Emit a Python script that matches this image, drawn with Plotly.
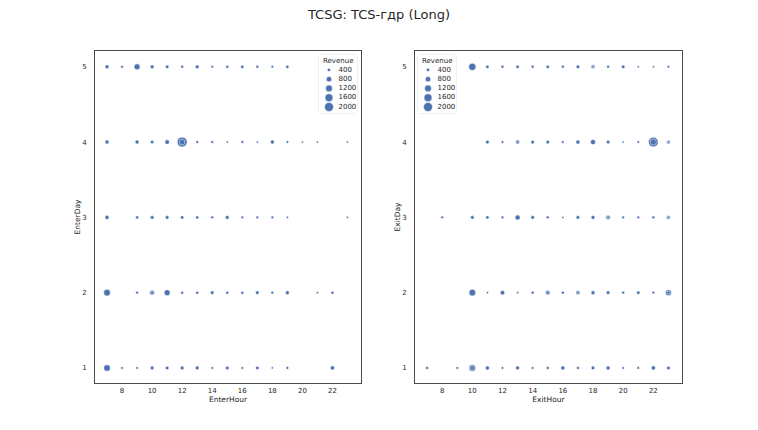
import numpy as np
import plotly.graph_objects as go

# ---------------- data ----------------
# Left panel: entry hour / entry day / revenue per trade
enter_hour = [7, 8, 9, 10, 11, 12, 13, 14, 15, 16, 17, 18, 19,
              7, 9, 10, 11, 12, 13, 14, 15, 16, 17, 18, 19, 20, 21, 23,
              7, 9, 10, 11, 12, 13, 14, 15, 16, 17, 18, 19, 23,
              7, 9, 10, 11, 12, 13, 14, 15, 16, 17, 18, 19, 21, 22,
              7, 8, 9, 10, 11, 12, 13, 14, 15, 16, 17, 18, 19, 22,
              12, 10]
enter_day = [5] * 13 + [4] * 15 + [3] * 13 + [2] * 14 + [1] * 14 + [4, 2]
enter_rev = [500, 320, 950, 480, 420, 330, 470, 290, 350, 400, 330, 290, 380,
             520, 500, 430, 620, 2400, 330, 320, 260, 320, 250, 500, 290, 250, 250, 230,
             520, 360, 450, 450, 420, 360, 320, 460, 290, 290, 290, 250, 230,
             1150, 320, 700, 950, 350, 350, 440, 350, 350, 440, 320, 480, 250, 350,
             1150, 290, 290, 460, 440, 460, 470, 290, 440, 290, 430, 250, 320, 560,
             900, 350]

# Right panel: exit hour / exit day / revenue per trade
exit_hour = list(range(10, 24)) + list(range(11, 24)) + [8] + list(range(10, 24)) + \
    list(range(10, 24)) + [7, 9] + list(range(10, 24)) + \
    [22, 13, 23, 18, 19, 23, 15, 17, 23, 10]
exit_day = [5] * 14 + [4] * 13 + [3] * 15 + [2] * 14 + [1] * 16 + \
    [4, 4, 4, 5, 3, 3, 2, 2, 2, 1]
exit_rev = [1350, 400, 340, 400, 340, 400, 340, 450, 500, 340, 430, 250, 250, 290,
            450, 300, 560, 440, 440, 300, 530, 720, 450, 250, 290, 2300, 480,
            300, 440, 400, 300, 720, 440, 340, 250, 450, 480, 600, 300, 300, 330, 480,
            1150, 250, 600, 250, 340, 650, 340, 560, 500, 450, 330, 420, 300, 950,
            340, 290, 1150, 520, 290, 480, 290, 330, 520, 330, 450, 520, 290, 300, 540, 440,
            1000, 300, 250, 250, 300, 250, 350, 300, 400, 500]

legend_values = [400, 800, 1200, 1600, 2000]
hour_ticks = [8, 10, 12, 14, 16, 18, 20, 22]
day_ticks = [1, 2, 3, 4, 5]

TITLE = "TCSG: TCS-гдр (Long)"

# ---------------- style ----------------
BLUE = "#4C72B0"
TXT = "#262626"
FONT = "DejaVu Sans"
W, H = 758, 430
OFF = 8  # page body margin of the html page


def rev_to_px(r):
    r = np.asarray(r, dtype=float)
    return 1.12 * np.sqrt(np.maximum(9 + (r - 400) * 55 / 1600, 3.6))


def px_x(p):
    return (p - OFF) / W


def px_y(p):
    return 1 - (p - OFF) / H


fig = go.Figure()

marker_common = dict(color=BLUE, opacity=1, line=dict(color="white", width=0.5),
                     sizemode="diameter")

fig.add_trace(go.Scatter(x=enter_hour, y=enter_day, mode="markers",
                         marker=dict(size=rev_to_px(enter_rev), **marker_common),
                         xaxis="x", yaxis="y", showlegend=False, hoverinfo="skip"))
fig.add_trace(go.Scatter(x=exit_hour, y=exit_day, mode="markers",
                         marker=dict(size=rev_to_px(exit_rev), **marker_common),
                         xaxis="x2", yaxis="y2", showlegend=False, hoverinfo="skip"))

# size legends drawn on small auxiliary axes
leg_y = [1, 2, 3, 4, 5]
for xa, ya in (("x3", "y3"), ("x4", "y4")):
    fig.add_trace(go.Scatter(x=[10] * len(legend_values), y=leg_y, mode="markers",
                             marker=dict(size=rev_to_px(legend_values), **marker_common),
                             xaxis=xa, yaxis=ya, showlegend=False, hoverinfo="skip"))
    fig.add_trace(go.Scatter(x=[19.5] * len(legend_values), y=leg_y, mode="text",
                             text=[str(v) for v in legend_values],
                             textposition="middle right",
                             textfont=dict(size=7, color=TXT, family=FONT),
                             xaxis=xa, yaxis=ya, showlegend=False, hoverinfo="skip"))

# axes geometry (pixels in the picture)
L1, R1 = 95, 361
L2, R2 = 415, 682
TOP, BOT = 51, 383

axis_common = dict(showline=True, mirror=True, linecolor="#4a4a4a", linewidth=1,
                   showgrid=False, zeroline=False, ticks="",
                   tickfont=dict(size=7, color=TXT, family=FONT))

fig.update_layout(
    width=W, height=H,
    margin=dict(l=0, r=0, t=0, b=0),
    paper_bgcolor="white", plot_bgcolor="white",
    font=dict(family=FONT, color=TXT),
    title=dict(text=TITLE, x=px_x(379), xanchor="center", y=px_y(14), yanchor="middle",
               font=dict(size=13, color=TXT, family=FONT)),
    xaxis=dict(domain=[px_x(L1), px_x(R1)], range=[6.2, 23.9], tickvals=hour_ticks,
               title=dict(text="EnterHour", font=dict(size=7.5, color=TXT), standoff=2),
               ticklabelstandoff=1, anchor="y", **axis_common),
    yaxis=dict(domain=[px_y(BOT), px_y(TOP)], range=[0.8, 5.21], tickvals=day_ticks,
               title=dict(text="EnterDay", font=dict(size=7.5, color=TXT), standoff=0),
               ticklabelstandoff=6, anchor="x", **axis_common),
    xaxis2=dict(domain=[px_x(L2), px_x(R2)], range=[6.2, 23.9], tickvals=hour_ticks,
                title=dict(text="ExitHour", font=dict(size=7.5, color=TXT), standoff=2),
                ticklabelstandoff=1, anchor="y2", **axis_common),
    yaxis2=dict(domain=[px_y(BOT), px_y(TOP)], range=[0.8, 5.21], tickvals=day_ticks,
                title=dict(text="ExitDay", font=dict(size=7.5, color=TXT), standoff=0),
                ticklabelstandoff=6, anchor="x2", **axis_common),
)

# legend axes
legend_boxes = [(319, 357, "x3", "y3", "xaxis3", "yaxis3"),
                (418, 456, "x4", "y4", "xaxis4", "yaxis4")]
for lx0, lx1, xr, yr, xk, yk in legend_boxes:
    fig.update_layout(**{
        xk: dict(domain=[px_x(lx0), px_x(lx1)], range=[0, lx1 - lx0], visible=False,
                 anchor=yr, fixedrange=True),
        yk: dict(domain=[px_y(113), px_y(55)], range=[5.65, -0.6], visible=False,
                 anchor=xr, fixedrange=True),
    })
    x0, x1, y0, y1 = px_x(lx0), px_x(lx1), px_y(113), px_y(55)
    rx, ry = 2 / W, 2 / H
    path = (f"M {x0+rx},{y1} L {x1-rx},{y1} Q {x1},{y1} {x1},{y1-ry} "
            f"L {x1},{y0+ry} Q {x1},{y0} {x1-rx},{y0} L {x0+rx},{y0} "
            f"Q {x0},{y0} {x0},{y0+ry} L {x0},{y1-ry} Q {x0},{y1} {x0+rx},{y1} Z")
    fig.add_shape(type="path", path=path, xref="paper", yref="paper",
                  line=dict(color="#d6d6d6", width=0.8), fillcolor="rgba(255,255,255,0.8)",
                  layer="below")
    fig.add_annotation(text="Revenue", xref=xr, yref=yr, x=(lx1 - lx0) / 2, y=0,
                       showarrow=False, xanchor="center", yanchor="middle",
                       font=dict(size=7, color=TXT, family=FONT))

fig.write_html("out.html")
